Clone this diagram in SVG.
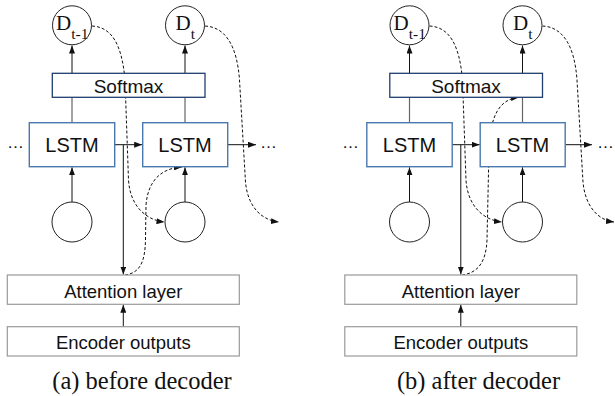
<svg xmlns="http://www.w3.org/2000/svg" width="615" height="396" viewBox="0 0 615 396">
  <defs>
    <marker id="arrow" viewBox="0 0 8 6" refX="8" refY="3" markerWidth="8" markerHeight="6" markerUnits="userSpaceOnUse" orient="auto">
      <path d="M0,0 L8,3 L0,6 z" fill="#111"/>
    </marker>
    <style>
      .lstm { fill: #fff; stroke: #4a78ae; stroke-width: 1.4; }
      .softmax { fill: #fff; stroke: #1f3e6e; stroke-width: 1.3; }
      .layer { fill: #fff; stroke: #9a9a9a; stroke-width: 1.2; }
      .state { fill: #fff; stroke: #222; stroke-width: 1; }
      .label { font-family: "Liberation Sans", Arial, sans-serif; fill: #111; text-anchor: middle; }
      .sym { font-family: "Liberation Serif", "Times New Roman", serif; fill: #111; }
      .caption { font-family: "Liberation Serif", "Times New Roman", serif; fill: #111; font-size: 24.5px; text-anchor: middle; }
      .solid { fill: none; stroke: #111; stroke-width: 1; }
      .gray { fill: none; stroke: #666; stroke-width: 1.2; }
      .dash { fill: none; stroke: #111; stroke-width: 1; stroke-dasharray: 3 2; }
    </style>
  </defs>
  <rect width="615" height="396" fill="#fff"/>

  <!-- (a) before decoder -->
  <g id="panel-a">
    <g id="a-connectors">
      <line class="solid" x1="72" y1="73.3" x2="72" y2="45.5" marker-end="url(#arrow)"/>
      <line class="solid" x1="185" y1="73.3" x2="185" y2="45.5" marker-end="url(#arrow)"/>
      <line class="gray" x1="72" y1="122.7" x2="72" y2="97.3"/>
      <line class="gray" x1="185" y1="122.7" x2="185" y2="97.3"/>
      <line class="solid" x1="72" y1="202" x2="72" y2="167.3" marker-end="url(#arrow)"/>
      <line class="solid" x1="185" y1="202" x2="185" y2="167.3" marker-end="url(#arrow)"/>
      <line class="solid" x1="114.7" y1="144.7" x2="142.2" y2="144.7" marker-end="url(#arrow)"/>
      <line class="solid" x1="227.7" y1="144.7" x2="256" y2="144.7" marker-end="url(#arrow)"/>
      <line class="solid" x1="123.3" y1="144.7" x2="123.3" y2="274.5" marker-end="url(#arrow)"/>
      <line class="solid" x1="123.3" y1="326.7" x2="123.3" y2="304.8" marker-end="url(#arrow)"/>
      <path class="dash" d="M92,26 C112,27 122,45 125,80 L128.5,180 C130,205 145,220 164.5,222" marker-end="url(#arrow)"/>
      <path class="dash" d="M205,26 C225,27 237,45 239.5,80 L245.5,182 C247.5,205 260,220 279,222" marker-end="url(#arrow)"/>
      <path class="dash" d="M125,275 C140,273 145,262 145.5,240 L146,205 C148,180 162,168 182,167" marker-end="url(#arrow)"/>
    </g>
    <g id="a-d-prev">
      <circle class="state" cx="72" cy="25.3" r="19.5"/>
      <text class="sym" x="56" y="30" font-size="21">D<tspan dy="9" font-size="15.5">t-1</tspan></text>
    </g>
    <g id="a-d-cur">
      <circle class="state" cx="185" cy="25.3" r="19.5"/>
      <text class="sym" x="175.5" y="29.5" font-size="21">D<tspan dy="9" font-size="15.5">t</tspan></text>
    </g>
    <g id="a-softmax">
      <rect class="softmax" x="52.3" y="73.3" width="152.7" height="24"/>
      <text class="label" x="128.5" y="92.5" font-size="19">Softmax</text>
    </g>
    <g id="a-lstm-prev">
      <rect class="lstm" x="29.3" y="122.7" width="85.4" height="44"/>
      <text class="label" x="72" y="151.5" font-size="20">LSTM</text>
    </g>
    <g id="a-lstm-cur">
      <rect class="lstm" x="142.7" y="122.7" width="85" height="44"/>
      <text class="label" x="185" y="151.5" font-size="20">LSTM</text>
    </g>
    <g id="a-dots-left"><text class="label" x="15.5" y="147.5" font-size="17">…</text></g>
    <g id="a-dots-right"><text class="label" x="268.5" y="147.5" font-size="17">…</text></g>
    <g id="a-input-prev"><circle class="state" cx="72" cy="222" r="20"/></g>
    <g id="a-input-cur"><circle class="state" cx="185" cy="222" r="20"/></g>
    <g id="a-attention">
      <rect class="layer" x="7.3" y="275" width="232" height="29.3"/>
      <text class="label" x="123.3" y="297.5" font-size="18.5">Attention layer</text>
    </g>
    <g id="a-encoder">
      <rect class="layer" x="7.3" y="326.7" width="232" height="29.3"/>
      <text class="label" x="123.3" y="349" font-size="18.5">Encoder outputs</text>
    </g>
    <text class="caption" x="142" y="389">(a) before decoder</text>
  </g>

  <!-- (b) after decoder -->
  <g id="panel-b" transform="translate(337.5 0)">
    <g id="b-connectors">
      <line class="solid" x1="72" y1="73.3" x2="72" y2="45.5" marker-end="url(#arrow)"/>
      <line class="solid" x1="185" y1="73.3" x2="185" y2="45.5" marker-end="url(#arrow)"/>
      <line class="gray" x1="72" y1="122.7" x2="72" y2="97.3"/>
      <line class="gray" x1="185" y1="122.7" x2="185" y2="97.3"/>
      <line class="solid" x1="72" y1="202" x2="72" y2="167.3" marker-end="url(#arrow)"/>
      <line class="solid" x1="185" y1="202" x2="185" y2="167.3" marker-end="url(#arrow)"/>
      <line class="solid" x1="114.7" y1="144.7" x2="142.2" y2="144.7" marker-end="url(#arrow)"/>
      <line class="solid" x1="227.7" y1="144.7" x2="254.5" y2="144.7" marker-end="url(#arrow)"/>
      <line class="solid" x1="123.3" y1="144.7" x2="123.3" y2="274.5" marker-end="url(#arrow)"/>
      <line class="solid" x1="123.3" y1="326.7" x2="123.3" y2="304.8" marker-end="url(#arrow)"/>
      <path class="dash" d="M92,26 C112,27 122,45 125,80 L128.5,180 C130,205 145,220 164.5,222" marker-end="url(#arrow)"/>
      <path class="dash" d="M205,26 C225,27 237,45 239.5,80 L245.5,182 C247.5,205 259.5,220 276.5,222" marker-end="url(#arrow)"/>
      <path class="dash" d="M124.5,275 C140.5,273 148.5,262 149.5,240 L151.5,150 C152.5,115 162.5,99 181.5,97.3" marker-end="url(#arrow)"/>
    </g>
    <g id="b-d-prev">
      <circle class="state" cx="72" cy="25.3" r="19.5"/>
      <text class="sym" x="56" y="30" font-size="21">D<tspan dy="9" font-size="15.5">t-1</tspan></text>
    </g>
    <g id="b-d-cur">
      <circle class="state" cx="185" cy="25.3" r="19.5"/>
      <text class="sym" x="175.5" y="29.5" font-size="21">D<tspan dy="9" font-size="15.5">t</tspan></text>
    </g>
    <g id="b-softmax">
      <rect class="softmax" x="52.3" y="73.3" width="152.7" height="24"/>
      <text class="label" x="128.5" y="92.5" font-size="19">Softmax</text>
    </g>
    <g id="b-lstm-prev">
      <rect class="lstm" x="29.3" y="122.7" width="85.4" height="44"/>
      <text class="label" x="72" y="151.5" font-size="20">LSTM</text>
    </g>
    <g id="b-lstm-cur">
      <rect class="lstm" x="142.7" y="122.7" width="85" height="44"/>
      <text class="label" x="185" y="151.5" font-size="20">LSTM</text>
    </g>
    <g id="b-dots-left"><text class="label" x="13" y="147.5" font-size="17">…</text></g>
    <g id="b-dots-right"><text class="label" x="268" y="147.5" font-size="17">…</text></g>
    <g id="b-input-prev"><circle class="state" cx="72" cy="222" r="20"/></g>
    <g id="b-input-cur"><circle class="state" cx="185" cy="222" r="20"/></g>
    <g id="b-attention">
      <rect class="layer" x="7.3" y="275" width="232" height="29.3"/>
      <text class="label" x="123.3" y="297.5" font-size="18.5">Attention layer</text>
    </g>
    <g id="b-encoder">
      <rect class="layer" x="7.3" y="326.7" width="232" height="29.3"/>
      <text class="label" x="123.3" y="349" font-size="18.5">Encoder outputs</text>
    </g>
    <text class="caption" x="141" y="389">(b) after decoder</text>
  </g>
</svg>
